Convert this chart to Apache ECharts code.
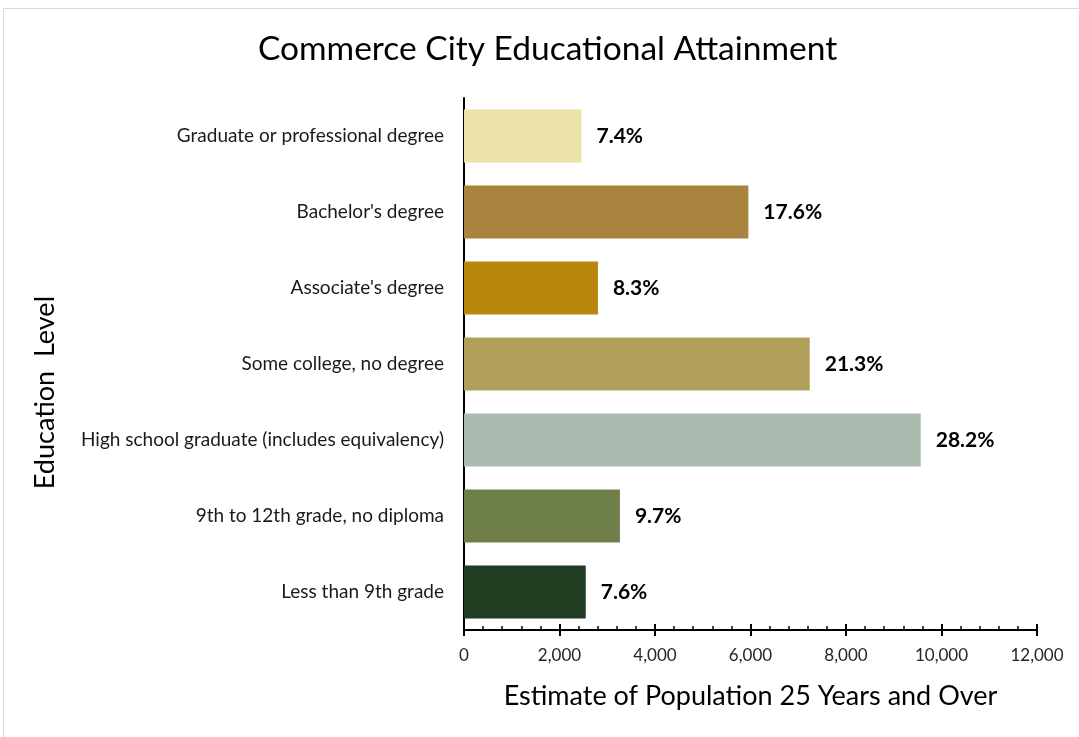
<!DOCTYPE html>
<html>
<head>
<meta charset="utf-8">
<script src="https://cdn.jsdelivr.net/npm/echarts@6/dist/echarts.min.js"></script>
<style>
  html, body { margin: 0; padding: 0; background: #ffffff; }
  #chart { width: 1079px; height: 737px; }
</style>
</head>
<body>
<div id="chart"></div>
<script>
// Education levels, listed bottom to top as drawn on the category axis
const categories = [
  'Less than 9th grade',
  '9th to 12th grade, no diploma',
  'High school graduate (includes equivalency)',
  'Some college, no degree',
  "Associate's degree",
  "Bachelor's degree",
  'Graduate or professional degree'
];
// Estimated population 25 years and over for each level
const populations = [2550, 3265, 9565, 7240, 2805, 5955, 2460];
// Share of the population shown beside each bar
const shares = ['7.6%', '9.7%', '28.2%', '21.3%', '8.3%', '17.6%', '7.4%'];
// Bar fill per level
const barColors = ['#213d21', '#6f7f4a', '#abbbb0', '#b09e59', '#b9870c', '#a9843f', '#ece3a9'];

const FONT = 'Lato';

const chart = echarts.init(document.getElementById('chart'), null, { renderer: 'canvas' });

chart.setOption({
  animation: false,
  backgroundColor: '#ffffff',
  textStyle: { fontFamily: FONT },
  title: {
    text: 'Commerce City Educational Attainment',
    left: 253,
    top: 27,
    textStyle: { fontFamily: FONT, fontSize: 33.5, fontWeight: 'normal', color: '#000000' }
  },
  graphic: [{
    type: 'rect',
    shape: { x: 3.5, y: 8.5, width: 1100, height: 760 },
    style: { fill: 'none', stroke: '#d9d9d9', lineWidth: 1 },
    silent: true
  }, {
    type: 'text',
    left: 32,
    top: 296,
    rotation: Math.PI / 2,
    style: {
      text: 'Education  Level',
      font: '27px Lato',
      fill: '#000000'
    }
  }],
  grid: { left: 464, right: 42, top: 98, bottom: 107, containLabel: false },
  xAxis: [{
    type: 'value',
    min: 0,
    max: 12000,
    interval: 2000,
    position: 'bottom',
    name: 'Estimate of Population 25 Years and Over',
    nameLocation: 'middle',
    nameGap: 53,
    nameTextStyle: { fontFamily: FONT, fontSize: 27, color: '#000000' },
    axisLine: { show: true, lineStyle: { color: '#000000', width: 2 } },
    axisTick: { show: true, inside: false, length: 6, lineStyle: { color: '#000000', width: 2 } },
    axisLabel: {
      fontFamily: FONT, fontSize: 17, color: '#262626', margin: 17,
      formatter: v => v.toLocaleString('en-US')
    },
    splitLine: { show: false }
  }, {
    type: 'value',
    min: 0,
    max: 12000,
    interval: 2000,
    position: 'bottom',
    axisLine: { show: false },
    axisTick: { show: true, inside: true, length: 6, lineStyle: { color: '#000000', width: 2 } },
    minorTick: { show: true, splitNumber: 5, length: 4, lineStyle: { color: '#000000', width: 1.5 } },
    axisLabel: { show: false },
    splitLine: { show: false }
  }],
  yAxis: {
    type: 'category',
    data: categories,
    axisLine: { show: true, lineStyle: { color: '#000000', width: 2 } },
    axisTick: { show: false },
    axisLabel: { fontFamily: FONT, fontSize: 19, color: '#1a1a1a', margin: 20 }
  },
  series: [{
    type: 'bar',
    xAxisIndex: 0,
    data: populations.map((v, i) => ({ value: v, itemStyle: { color: barColors[i] } })),
    barCategoryGap: '30%',
    label: {
      show: true,
      position: 'right',
      distance: 15,
      fontFamily: FONT,
      fontSize: 21,
      fontWeight: 'bold',
      color: '#000000',
      formatter: p => shares[p.dataIndex]
    }
  }]
});
</script>
</body>
</html>
